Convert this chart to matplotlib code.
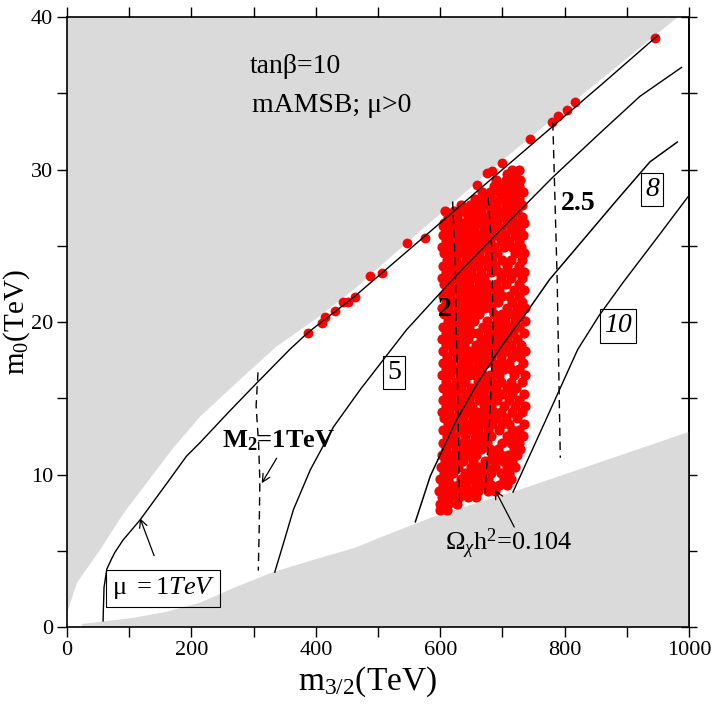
import numpy as np
import matplotlib
matplotlib.use("Agg")
import matplotlib.pyplot as plt

plt.rcParams['font.family'] = ['Liberation Serif', 'DejaVu Serif']
plt.rcParams['mathtext.fontset'] = 'custom'
plt.rcParams['mathtext.rm'] = 'Liberation Serif'
plt.rcParams['mathtext.it'] = 'Liberation Serif:italic'
plt.rcParams['mathtext.bf'] = 'Liberation Serif:bold'

# excluded regions (grey)
upper_x = [0, 0, 16, 53, 90, 128, 170, 214, 280, 337, 400, 463, 580, 700, 840, 982]
upper_y = [40, 0.9, 2.9, 5.05, 7.4, 9.45, 11.7, 13.8, 16.3, 18.4, 20.2, 22.2, 26.4, 30.6, 35.3, 40]
lower_x = [24, 24, 106, 160, 214, 267, 331, 400, 463, 530, 597, 660, 720, 860, 1000, 1000]
lower_y = [0, 0.2, 0.6, 1.0, 1.6, 2.55, 3.6, 4.45, 5.2, 6.3, 7.35, 8.15, 8.9, 10.85, 12.8, 0]

# mu = 1 TeV line
mu_x = [58, 58.4, 59.5, 64, 72, 77, 90, 117, 160, 192, 214, 260, 305, 358, 387, 463, 540, 620, 700, 780, 860, 950]
mu_y = [0.4, 1.1, 2.6, 3.8, 4.5, 4.9, 5.7, 7.0, 9.4, 11.2, 12.1, 14.1, 16.0, 18.2, 19.3, 21.7, 24.4, 27.2, 30.0, 32.8, 35.6, 38.8]

# solid contours 5, 8, 10
c5_x = [334, 348, 364, 391, 428, 471, 508, 546, 620, 696, 781, 857, 921, 988]
c5_y = [3.6, 5.5, 7.7, 10.3, 13.1, 15.55, 17.5, 19.5, 22.8, 26.0, 29.5, 32.4, 34.8, 36.7]
c8_x = [560, 584, 624, 660, 700, 740, 776, 830, 884, 937, 981]
c8_y = [6.9, 9.9, 13.4, 16.0, 18.5, 20.7, 22.8, 25.4, 28.0, 30.5, 31.8]
c10_x = [717, 770, 821, 855, 894, 950, 998]
c10_y = [8.85, 13.6, 18.2, 20.4, 22.6, 25.6, 28.2]

# dashed M2 contours
m2_1_x = [307, 304, 308, 310, 309, 307.5]
m2_1_y = [16.7, 14.5, 12.0, 9.6, 6.5, 3.7]
m2_2a_x = [620, 624, 626, 629, 631]
m2_2a_y = [27.9, 23.9, 19.4, 13.4, 8.0]
m2_2b_x = [677, 683, 685, 680, 672]
m2_2b_y = [28.2, 24.7, 19.4, 14.0, 8.8]
m2_25_x = [781, 788, 793]
m2_25_y = [33.1, 22.8, 11.1]

# red points along the mu line
edge_x = [387, 410, 415, 431, 444, 452, 463, 487, 506, 547, 575, 604, 612, 659, 675, 683, 699, 744, 780, 789, 804, 817, 945]
edge_y = [19.3, 19.95, 20.3, 20.7, 21.3, 21.3, 21.65, 23.0, 23.2, 25.2, 25.5, 26.3, 26.3, 29.0, 29.8, 29.9, 30.4, 32.0, 33.1, 33.5, 33.9, 34.4, 38.6]

# red points of the relic density band, row by row
band_y = [7.7, 8.1, 8.5, 8.9, 9.3, 9.7, 10.1, 10.5, 10.9, 11.3, 11.7, 12.1, 12.5, 12.9,
          13.3, 13.7, 14.1, 14.5, 14.9, 15.3, 15.7, 16.1, 16.5, 16.9, 17.3, 17.7, 18.1,
          18.5, 18.9, 19.3, 19.7, 20.1, 20.5, 20.9, 21.3, 21.7, 22.1, 22.5, 22.9, 23.3,
          23.7, 24.1, 24.5, 24.9, 25.3, 25.7, 26.1, 26.5, 26.9, 27.3, 27.7, 28.1, 28.5,
          28.9, 29.3, 29.7, 30.0]
band_x = [
    [599, 611],
    [600, 613, 627],
    [603, 616, 630, 644, 657],
    [598, 609, 622, 636, 648, 661, 676, 688],
    [604, 618, 629, 642, 657, 669, 682, 695, 707],
    [600, 612, 633, 648, 661, 676, 702, 714],
    [606, 620, 640, 655, 668, 681, 698, 711],
    [601, 615, 629, 650, 662, 674, 688, 708, 720],
    [608, 622, 637, 652, 672, 687, 701, 716],
    [603, 618, 630, 644, 658, 684, 697, 709, 724],
    [609, 626, 638, 651, 666, 680, 693, 718, 729],
    [604, 619, 632, 647, 661, 675, 700, 713, 726],
    [611, 624, 640, 656, 670, 682, 707, 720, 733],
    [605, 618, 634, 648, 661, 676, 694, 716, 727],
    [612, 627, 641, 655, 669, 684, 699, 711, 735],
    [606, 620, 636, 652, 663, 677, 690, 706, 724],
    [603, 614, 630, 645, 659, 672, 686, 698, 715, 731],
    [609, 623, 638, 651, 670, 681, 703, 720, 736],
    [605, 617, 632, 647, 662, 676, 692, 711, 727],
    [611, 626, 641, 656, 668, 685, 699, 716, 734],
    [604, 619, 634, 650, 664, 677, 690, 707, 722],
    [609, 625, 640, 661, 671, 684, 698, 713, 731],
    [603, 616, 631, 646, 656, 669, 680, 694, 719, 736],
    [610, 623, 638, 652, 666, 689, 703, 714, 726],
    [605, 618, 633, 645, 660, 674, 685, 698, 710, 733],
    [611, 627, 641, 655, 669, 682, 697, 716, 729],
    [604, 620, 634, 648, 663, 677, 691, 705, 722, 737],
    [609, 624, 639, 657, 672, 686, 700, 713, 730],
    [603, 616, 630, 644, 665, 680, 695, 708, 724],
    [610, 623, 638, 651, 661, 676, 689, 703, 717, 735],
    [605, 618, 632, 647, 668, 683, 698, 711, 727],
    [612, 626, 640, 655, 675, 692, 704, 720, 736],
    [606, 619, 634, 648, 662, 686, 699, 714, 729],
    [603, 613, 628, 642, 656, 670, 681, 707, 723, 737],
    [609, 622, 637, 651, 664, 677, 693, 716, 732],
    [605, 616, 631, 645, 659, 673, 685, 699, 711, 726],
    [611, 625, 640, 654, 668, 680, 694, 719, 734],
    [606, 619, 633, 647, 662, 675, 689, 705, 727],
    [603, 613, 628, 643, 657, 671, 698, 713, 732],
    [609, 622, 636, 650, 666, 682, 694, 708, 720, 735],
    [605, 617, 631, 646, 660, 676, 688, 707, 727],
    [611, 626, 641, 654, 669, 683, 699, 714, 732],
    [606, 620, 634, 648, 663, 678, 692, 721, 735],
    [603, 614, 629, 643, 657, 672, 686, 703, 716, 730],
    [609, 623, 638, 652, 666, 680, 697, 711, 726],
    [605, 618, 632, 647, 661, 675, 689, 704, 720, 733],
    [610, 625, 640, 655, 670, 684, 698, 714, 729],
    [606, 619, 634, 648, 663, 677, 692, 708, 722, 734],
    [612, 627, 645, 658, 672, 687, 701, 716, 731],
    [608, 622, 637, 651, 666, 681, 695, 709, 724],
    [633, 648, 662, 676, 690, 705, 719, 731],
    [656, 670, 684, 698, 712, 726],
    [667, 680, 694, 708, 721, 733],
    [686, 700, 713, 727],
    [690, 705, 718, 729],
    [708, 721],
    [715, 726],
]

x_ticks = list(range(0, 1001, 100))
x_labels = ['0', '', '200', '', '400', '', '600', '', '800', '', '1000']
y_ticks = list(range(0, 41, 5))
y_labels = ['0', '', '10', '', '20', '', '30', '', '40']

fig = plt.figure(figsize=(7.13, 7.05), dpi=100)
ax = fig.add_axes([0.094, 0.1106, 0.8724, 0.8652])

grey = '#dadada'
ax.fill(upper_x, upper_y, color=grey, lw=0, zorder=1)
ax.fill(lower_x, lower_y, color=grey, lw=0, zorder=1)

# red scatter
bx = [x for row in band_x for x in row]
by = [y for y, row in zip(band_y, band_x) for x in row]
ax.scatter(bx, by, s=54, c='#ff0000', linewidths=0, zorder=2)
ax.scatter(edge_x, edge_y, s=50, c='#ff0000', linewidths=0, zorder=2)

# lines
ax.plot(mu_x, mu_y, 'k-', lw=1.0, zorder=3)
ax.plot(c5_x, c5_y, 'k-', lw=1.0, zorder=3)
ax.plot(c8_x, c8_y, 'k-', lw=1.1, zorder=3)
ax.plot(c10_x, c10_y, 'k-', lw=1.0, zorder=3)
for xs, ys in [(m2_1_x, m2_1_y), (m2_2a_x, m2_2a_y), (m2_2b_x, m2_2b_y), (m2_25_x, m2_25_y)]:
    ax.plot(xs, ys, color='black', lw=1.0, dashes=(6, 4), zorder=3)

# labels in the plot
ax.text(294, 36.35, 'tanβ=10', fontsize=20, va='baseline', ha='left')
ax.text(297.5, 33.8, 'mAMSB; μ>0', fontsize=20, va='baseline', ha='left')
ax.text(249, 11.8, r'$\mathbf{M_2}$=1TeV', fontsize=19, fontweight='bold',
        va='baseline', ha='left', zorder=4)
ax.text(608, 20.8, '2', fontsize=20, fontweight='bold', ha='center', va='center', zorder=4)
ax.text(822, 27.75, '2.5', fontsize=20, fontweight='bold', ha='center', va='center', zorder=4)

box = dict(boxstyle='square,pad=0.15', fc='none', ec='black', lw=0.8)
ax.text(526, 16.7, '5', fontsize=20, ha='center', va='center', bbox=box, zorder=4)
ax.text(941, 28.7, '8', fontsize=20, style='italic', ha='center', va='center', bbox=box, zorder=4)
ax.text(886, 19.75, '10', fontsize=20, style='italic', ha='center', va='center', bbox=box, zorder=4)
ax.text(155, 2.53, r'μ $\mathit{=1TeV}$', fontsize=19, ha='center', va='center',
        bbox=dict(boxstyle='square,pad=0.2', fc='none', ec='black', lw=0.8), zorder=4)
ax.text(608, 5.05, r'$\Omega_\chi\mathrm{h}^2$=0.104', fontsize=19, ha='left', va='baseline', zorder=4)

arrow = dict(arrowstyle='->', lw=0.9, color='black', shrinkA=0, shrinkB=0, mutation_scale=14)
ax.annotate('', xy=(313, 9.43), xytext=(337, 11.07), arrowprops=arrow, zorder=4)
ax.annotate('', xy=(117.4, 7.13), xytext=(140, 4.68), arrowprops=arrow, zorder=4)
ax.annotate('', xy=(688, 9.0), xytext=(719, 6.56), arrowprops=arrow, zorder=4)

ax.set_xlim(0, 1000)
ax.set_ylim(0, 40)
ax.set_xticks(x_ticks)
ax.set_xticklabels(x_labels)
ax.set_yticks(y_ticks)
ax.set_yticklabels(y_labels)
ax.tick_params(axis='both', direction='out', length=7, width=1.0, top=True,
               right=False, labelsize=16, pad=3)
for sp in ax.spines.values():
    sp.set_linewidth(1.2)

sec = ax.secondary_yaxis('right')
sec.set_yticks(y_ticks)
sec.set_yticklabels([])
sec.tick_params(direction='inout', length=12, width=1.0)
sec.spines['right'].set_linewidth(1.2)

fig.text(0.516, 0.033, r'$\mathrm{m_{3/2}(TeV)}$', fontsize=24, ha='center', va='center')
fig.text(0.0235, 0.543, r'$\mathrm{m_0(TeV)}$', fontsize=21, ha='center', va='center', rotation=90)

fig.savefig('out.png', dpi=100)
